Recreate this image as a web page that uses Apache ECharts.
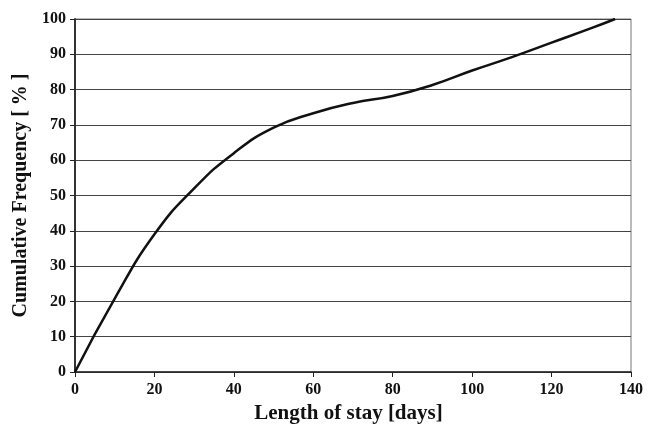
<!DOCTYPE html>
<html><head><meta charset="utf-8">
<script src="https://cdn.jsdelivr.net/npm/echarts@6/dist/echarts.min.js"></script>
<style>html,body{margin:0;padding:0;background:#fff;overflow:hidden}#c{width:659px;height:429px}</style>
</head><body><div id="c"></div>
<script>
var stayDays = [0, 10, 20, 30, 40, 50, 60, 70, 80, 90, 100, 110, 120, 130, 136];
var cumFreq  = [0, 20.8, 39, 52, 62, 69.2, 73.3, 76.2, 78.2, 81.3, 85.4, 89.2, 93.3, 97.4, 100];
var xTitle = 'Length of stay [days]';
var yTitle = 'Cumulative Frequency [ % ]';

var pts = stayDays.map(function(d, i){ return [d, cumFreq[i]]; });
var font = 'Liberation Serif, Times New Roman, serif';
var chart = echarts.init(document.getElementById('c'));
chart.setOption({
  animation: false,
  grid: {left: 75, right: 28, top: 19, bottom: 54, show: true, borderColor: '#777', borderWidth: 1},
  xAxis: {
    type: 'value', min: 0, max: 140, interval: 20,
    name: xTitle, nameLocation: 'middle', nameGap: 31,
    nameTextStyle: {fontFamily: font, fontWeight: 'bold', fontSize: 21, color: '#111', padding: [0, 9, 0, 0]},
    axisLine: {show: true, lineStyle: {color: '#222', width: 1.5}},
    axisTick: {show: true, length: 5, lineStyle: {color: '#222'}},
    axisLabel: {fontFamily: font, fontWeight: 'bold', fontSize: 16, color: '#111', margin: 10},
    splitLine: {show: false}
  },
  yAxis: {
    type: 'value', min: 0, max: 100, interval: 10,
    name: yTitle, nameLocation: 'middle', nameGap: 39, nameRotate: 90,
    nameTextStyle: {fontFamily: font, fontWeight: 'bold', fontSize: 20, color: '#111'},
    axisLine: {show: true, lineStyle: {color: '#333', width: 2}},
    axisTick: {show: true, length: 5, lineStyle: {color: '#222'}},
    axisLabel: {fontFamily: font, fontWeight: 'bold', fontSize: 16, color: '#111', margin: 9},
    splitLine: {show: true, lineStyle: {color: '#444', width: 1}}
  },
  series: [{
    type: 'line', data: pts, smooth: true,
    showSymbol: false, lineStyle: {color: '#111', width: 2.5}
  }]
});
</script></body></html>
